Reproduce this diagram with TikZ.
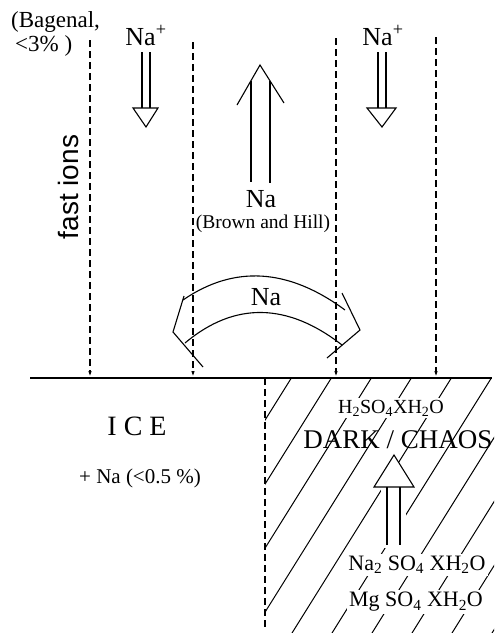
\documentclass[tikz,border=0pt]{standalone}
\usepackage{fontspec}
\setmainfont{Liberation Serif}
\setsansfont{Liberation Sans}
\usetikzlibrary{arrows.meta}
\begin{document}
\begin{tikzpicture}[x=1pt,y=-1pt,
  ln/.style={line width=1.1pt,line join=miter},
  dsh/.style={line width=1.2pt,dash pattern=on 7pt off 4pt,-{Latex[length=6pt,width=3.5pt]}},
  hatch/.style={line width=1pt},
  txt/.style={inner sep=1pt},
  big/.style={txt,font=\fontsize{26}{28}\selectfont},
  mid/.style={txt,font=\fontsize{20}{22}\selectfont},
  clear/.style={fill=white,inner sep=2pt}]
\useasboundingbox (0,0) rectangle (504,633);

% --- dashed field lines with small tips at the surface
\coordinate (d1t) at (90,40);   \coordinate (d1b) at (90,377);
\coordinate (d2t) at (193,42);  \coordinate (d2b) at (193,377);
\coordinate (d3t) at (336,38);  \coordinate (d3b) at (336,377);
\coordinate (d4t) at (436,37);  \coordinate (d4b) at (436,377);
\draw[dsh] (d1t) -- (d1b);
\draw[dsh] (d2t) -- (d2b);
\draw[dsh] (d3t) -- (d3b);
\draw[dsh] (d4t) -- (d4b);

% --- surface line
\coordinate (sl) at (30,378); \coordinate (sr) at (492,378);
\draw[line width=1.4pt] (sl) -- (sr);

% --- hatching of dark / chaos region
\begin{scope}
  \clip (265,378) rectangle (494,633);
  \foreach \c in {527.6,567.6,...,890}
    \draw[hatch] ({\c-236.25},378) -- ({\c-395.6},633);
\end{scope}
\coordinate (dvt) at (265,378); \coordinate (dvb) at (265,630);
\draw[line width=1.2pt,dash pattern=on 7pt off 4pt] (dvt) -- (dvb);

% --- left Na+ arrow
\node[big,anchor=base] (naL) at (146,45) {Na\textsuperscript{+}};
\draw[ln] (142,52) -- (142,108) (150,52) -- (150,108);
\draw[ln] (133,108) -- (158,108) -- (146,127) -- cycle;

% --- right Na+ arrow
\node[big,anchor=base] (naR) at (383,45) {Na\textsuperscript{+}};
\draw[ln] (378,52) -- (378,108) (386,52) -- (386,108);
\draw[ln] (367,108) -- (396,108) -- (382,127) -- cycle;

% --- big upward Na arrow
\draw[ln] (237,105) -- (260,65) -- (284,103);
\draw[ln] (251,81) -- (251,182) (270,81) -- (270,183);
\node[big,inner sep=0pt] (naU) at (261,199) {Na};
\node[txt,inner sep=0pt,font=\fontsize{19.5}{21}\selectfont] (bh) at (263,224) {(Brown and Hill)};

% --- curved double arrow
\draw[ln] (183,300) .. controls (234,265) and (288,268) .. (345,310);
\draw[ln] (185,343) .. controls (235,301) and (288,303) .. (342,345);
\draw[ln] (184,296) -- (173,332) -- (203,367);
\draw[ln] (342,293) -- (360,330) -- (327,358);
\node[big] (naC) at (266,297) {Na};

% --- left labels
\node[txt,font=\fontsize{23}{25}\selectfont,align=left,anchor=north west,inner sep=0pt] (bag) at (11,11) {(Bagenal,\\[-1pt]\hspace*{4pt}<3\% )};
\node[txt,font=\sffamily\fontsize{28}{30}\selectfont,rotate=90] (fi) at (68,187) {fast ions};

% --- ice side
\node[txt,font=\fontsize{28}{30}\selectfont] (ice) at (137,426) {I C E};
\node[txt,font=\fontsize{21}{23}\selectfont] (icena) at (140,478) {+ Na (<0.5 \%)};

% --- dark side
\node[mid,clear] (h2so4) at (391,408) {H\textsubscript{2}SO\textsubscript{4}XH\textsubscript{2}O};
\node[txt,font=\fontsize{27}{29}\selectfont] (dark) at (398,440) {DARK / CHAOS};
\fill[white] (381,487) rectangle (406,548);
\draw[ln,fill=white] (374,487) -- (414,487) -- (394,455) -- cycle;
\draw[ln] (387,487) -- (387,545) (400,487) -- (400,545);
\node[txt,font=\fontsize{22}{24}\selectfont,clear] (na2) at (417,565) {Na\textsubscript{2} SO\textsubscript{4} XH\textsubscript{2}O};
\node[txt,font=\fontsize{22}{24}\selectfont,clear] (mg) at (416,602) {Mg SO\textsubscript{4} XH\textsubscript{2}O};
\end{tikzpicture}
\end{document}
